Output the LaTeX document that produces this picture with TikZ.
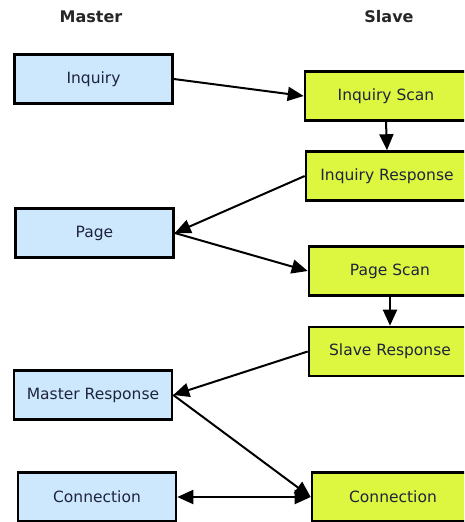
\documentclass[tikz,border=0pt]{standalone}
\usepackage{fontspec}
\setmainfont{DejaVu Sans}
\usetikzlibrary{arrows.meta,positioning}
\definecolor{MasterBlue}{RGB}{205,232,253}
\definecolor{SlaveLime}{RGB}{221,246,64}
\definecolor{LabelNavy}{RGB}{30,36,60}

\begin{document}
\begin{tikzpicture}[x=1pt, y=-1pt,
    >={Triangle[length=16pt,width=14pt]},
    masterbox/.style={draw=black, line width=2.6pt, fill=MasterBlue, minimum width=158pt,
        minimum height=49pt, text=LabelNavy, font=\fontsize{15.5}{18}\selectfont},
    slavebox/.style={masterbox, fill=SlaveLime, minimum width=162pt},
    heading/.style={font=\bfseries\fontsize{16}{19}\selectfont, text=black!85},
    link/.style={line width=2pt, ->}]
    \useasboundingbox (0,0) rectangle (464,522);
    \clip (0,0) rectangle (464,522);

    \node[heading] (master) at (91, 17) {Master};
    \node[heading] (slave) at (389, 17) {Slave};

    \node[masterbox] (mInq) at (93.5, 79) {Inquiry};
    \node[masterbox] (mPage) at (94.5, 233) {Page};
    \node[masterbox] (mResp) at (93, 395) {Master Response};
    \node[masterbox] (mConn) at (97, 497) {Connection};

    \node[slavebox] (sInq) at (386, 96) {Inquiry Scan};
    \node[slavebox] (sResp) at (387, 176) {Inquiry Response};
    \node[slavebox] (sPage) at (390, 271) {Page Scan};
    \node[slavebox] (sSlave) at (390, 351.5) {Slave Response};
    \node[slavebox] (sConn) at (393, 497) {Connection};

    \draw[link] (mInq.east) -- (sInq.west);
    \draw[link] (sInq.south) -- (sResp.north);
    \draw[link] (sResp.west) -- (mPage.east);
    \draw[link] (mPage.east) -- (sPage.west);
    \draw[link] (sPage.south) -- (sSlave.north);
    \draw[link] (sSlave.west) -- (mResp.east);
    \draw[link] (mResp.east) -- (sConn.west);
    \draw[link, <->] (mConn.east) -- (sConn.west);
\end{tikzpicture}
\end{document}
